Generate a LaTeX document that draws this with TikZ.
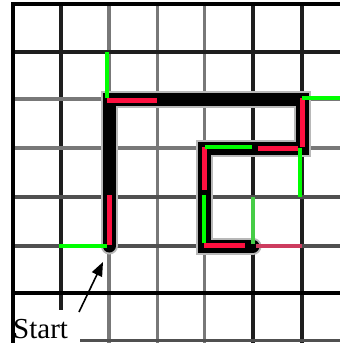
\documentclass[tikz,border=0pt]{standalone}
\usepackage{fontspec}
\setmainfont{Liberation Serif}
\usetikzlibrary{arrows.meta}
\definecolor{gdark}{RGB}{30,30,30}
\definecolor{gmid}{RGB}{80,80,80}
\definecolor{glight}{RGB}{120,120,120}
\definecolor{redseg}{RGB}{255,16,64}
\definecolor{redfade}{RGB}{205,60,95}
\definecolor{greenseg}{RGB}{0,255,0}
\definecolor{greenfade}{RGB}{70,205,70}
\tikzset{
  gridline/.style={line width=3.3pt},
  border/.style={line width=3.8pt, black},
  route/.style={line width=13pt, black, line join=miter, line cap=round},
  halo/.style={line width=17pt, black!28, line join=miter, line cap=round},
  redpart/.style={line width=5pt, redseg},
  greenpart/.style={line width=4.6pt, greenseg},
  redpale/.style={line width=4pt, redfade},
  greenpale/.style={line width=4pt, greenfade},
  pointer/.style={line width=1.6pt, -{Triangle[length=14pt,width=11pt]}},
  labeltext/.style={inner sep=0pt, font=\fontsize{29}{29}\selectfont}
}
\begin{document}
\begin{tikzpicture}[x=1pt,y=-1pt]
\useasboundingbox (0,0) rectangle (340,343);
\fill[white] (0,0) rectangle (340,343);
% vertical grid lines
\draw[gridline,gdark]  (61,4) -- (61,343);
\draw[gridline,glight] (109,4) -- (109,343);
\draw[gridline,glight] (157.5,4) -- (157.5,343);
\draw[gridline,glight] (204.5,4) -- (204.5,343);
\draw[gridline,gdark]  (253,4) -- (253,343);
\draw[gridline,gdark]  (302,4) -- (302,343);
% horizontal grid lines
\draw[gridline,gdark]  (12.7,52) -- (340,52);
\draw[gridline,glight] (12.7,99) -- (340,99);
\draw[gridline,glight] (12.7,148) -- (340,148);
\draw[gridline,gmid]   (12.7,197) -- (340,197);
\draw[gridline,gmid]   (12.7,246) -- (340,246);
\draw[gridline,black]  (12.7,293) -- (340,293);
\draw[gridline,gmid]   (12.7,340.5) -- (340,340.5);
% borders
\draw[border] (12.7,343) -- (12.7,4) -- (340,4);
% route points
\coordinate (s)  at (109,246);
\coordinate (a)  at (109,99);
\coordinate (b)  at (302,99);
\coordinate (c)  at (302,148);
\coordinate (d)  at (204,148);
\coordinate (e)  at (204,246);
\coordinate (f)  at (253,246);
% route
\draw[halo]  (s) -- (a) -- (b) -- (c) -- (d) -- (e) -- (f);
\draw[route] (s) -- (a) -- (b) -- (c) -- (d) -- (e) -- (f);
% pale segments
\draw[greenpale] (253,197) -- (253,244);
\draw[redpale]   (256,246) -- (302,246);
% red segments
\draw[redpart] (109,195) -- (109,245);
\draw[redpart] (107,100) -- (157,100);
\draw[redpart] (302,98) -- (302,147);
\draw[redpart] (258,148) -- (298,148);
\draw[redpart] (204,147) -- (204,190);
\draw[redpart] (204,245) -- (245,245);
% green segments
\draw[greenpart] (59,246) -- (107,246);
\draw[greenpart] (107,52) -- (107,98);
\draw[greenpart] (302,98) -- (340,98);
\draw[greenpart] (205,147) -- (252,147);
\draw[greenpart] (300,148) -- (300,197);
\draw[greenpart] (204,195) -- (204,243);
% label box
\fill[white] (14.6,310) rectangle (80,343);
\node[labeltext, anchor=base west] (start) at (13,338) {Start};
\coordinate (tail) at (79,312);
\coordinate (tip) at (103,262);
\draw[pointer] (tail) -- (tip);
\end{tikzpicture}
\end{document}
